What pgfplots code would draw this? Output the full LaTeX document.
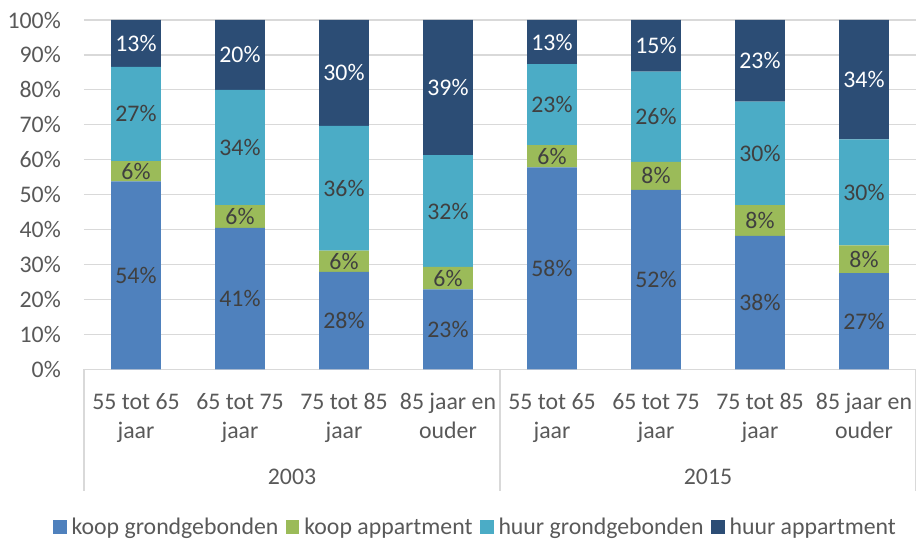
\documentclass[border=0pt]{standalone}
\usepackage{pgfplots}
\pgfplotsset{compat=1.18}
\usepackage{pgfplotstable}
\usepackage{fontspec}
\setmainfont{Carlito}
\definecolor{c1}{HTML}{4F81BD}
\definecolor{c2}{HTML}{9BBB59}
\definecolor{c3}{HTML}{4BACC6}
\definecolor{c4}{HTML}{2C4D75}
\definecolor{txt}{HTML}{595959}
\definecolor{lbl}{HTML}{404040}
\definecolor{gridc}{HTML}{D9D9D9}
\newcommand\ff{\fontsize{23.8}{28.5}\selectfont}

\pgfplotstableread{
x a la b lb c lc d ld
0 53.8 54 5.8 6 27.0 27 13.4 13
1 40.5 41 6.5 6 33.0 34 20.0 20
2 27.9 28 6.1 6 35.7 36 30.3 30
3 22.9 23 6.4 6 32.0 32 38.7 39
4 57.8 58 6.4 6 23.2 23 12.6 13
5 51.4 52 8.0 8 25.8 26 14.8 15
6 38.2 38 8.8 8 29.6 30 23.4 23
7 27.5 27 8.0 8 30.3 30 34.2 34
}\data

\begin{document}
\begin{tikzpicture}
\begin{axis}[
  width=832pt, height=349.3pt, scale only axis,
  ybar stacked, bar width=0.476,
  xmin=-0.5, xmax=7.5, ymin=0, ymax=100,
  clip=false,
  xtick={0,...,7},
  xticklabels={{55 tot 65\\jaar},{65 tot 75\\jaar},{75 tot 85\\jaar},{85 jaar en\\ouder},{55 tot 65\\jaar},{65 tot 75\\jaar},{75 tot 85\\jaar},{85 jaar en\\ouder}},
  ytick={0,10,...,100},
  yticklabel={\pgfmathprintnumber{\tick}\%},
  /pgf/number format/assume math mode=true,
  ymajorgrids, grid style={draw=gridc, line width=1.2pt},
  axis x line*=bottom, axis y line*=left,
  y axis line style={draw=none},
  x axis line style={draw=gridc, line width=1.2pt, -},
  major tick length=0pt, tick style={draw=none},
  extra x ticks={-0.5,3.5,7.5}, extra x tick labels={},
  extra x tick style={major tick length=121.7pt, tick align=outside, tick style={draw=gridc, line width=1.2pt}, grid=none},
  ticklabel style={font=\ff, text=txt},
  xticklabel style={align=center, anchor=north, inner sep=0pt, yshift=-24pt},
  yticklabel style={anchor=east, inner sep=0pt, xshift=-23pt},
  point meta=explicit,
  nodes near coords={\pgfmathprintnumber{\pgfplotspointmeta}\%},
  every node near coord/.style={anchor=center, inner sep=0pt, font=\ff, text=lbl},
  legend style={at={(0.4694,-0.452)}, anchor=center, draw=none, fill=none,
    font=\ff, text=txt, inner sep=0pt, nodes={inner sep=0pt},
    /tikz/every even column/.append style={column sep=7.5pt},
    /tikz/every odd column/.append style={column sep=5pt}},
  legend columns=4,
]
\addplot[fill=c1, draw=none,
  legend image code/.code={\fill[c1] (0pt,-6.7pt) rectangle (13.4pt,6.7pt);}]
  table[x=x, y=a, meta=la] {\data};
\addplot[fill=c2, draw=none,
  legend image code/.code={\fill[c2] (0pt,-6.7pt) rectangle (13.4pt,6.7pt);}]
  table[x=x, y=b, meta=lb] {\data};
\addplot[fill=c3, draw=none,
  legend image code/.code={\fill[c3] (0pt,-6.7pt) rectangle (13.4pt,6.7pt);}]
  table[x=x, y=c, meta=lc] {\data};
\addplot[fill=c4, draw=none,
  every node near coord/.append style={text=white},
  legend image code/.code={\fill[c4] (0pt,-6.7pt) rectangle (13.4pt,6.7pt);}]
  table[x=x, y=d, meta=ld] {\data};
\legend{koop grondgebonden, koop appartment, huur grondgebonden, huur appartment}
\node[anchor=base, font=\ff, text=txt, inner sep=0pt] at (axis cs:1.5,0) [yshift=-115.7pt] {2003};
\node[anchor=base, font=\ff, text=txt, inner sep=0pt] at (axis cs:5.5,0) [yshift=-115.7pt] {2015};
\end{axis}
\pgfresetboundingbox
\path[use as bounding box] (-84pt,-170.7pt) rectangle (832pt,369.3pt);
\end{tikzpicture}
\end{document}
